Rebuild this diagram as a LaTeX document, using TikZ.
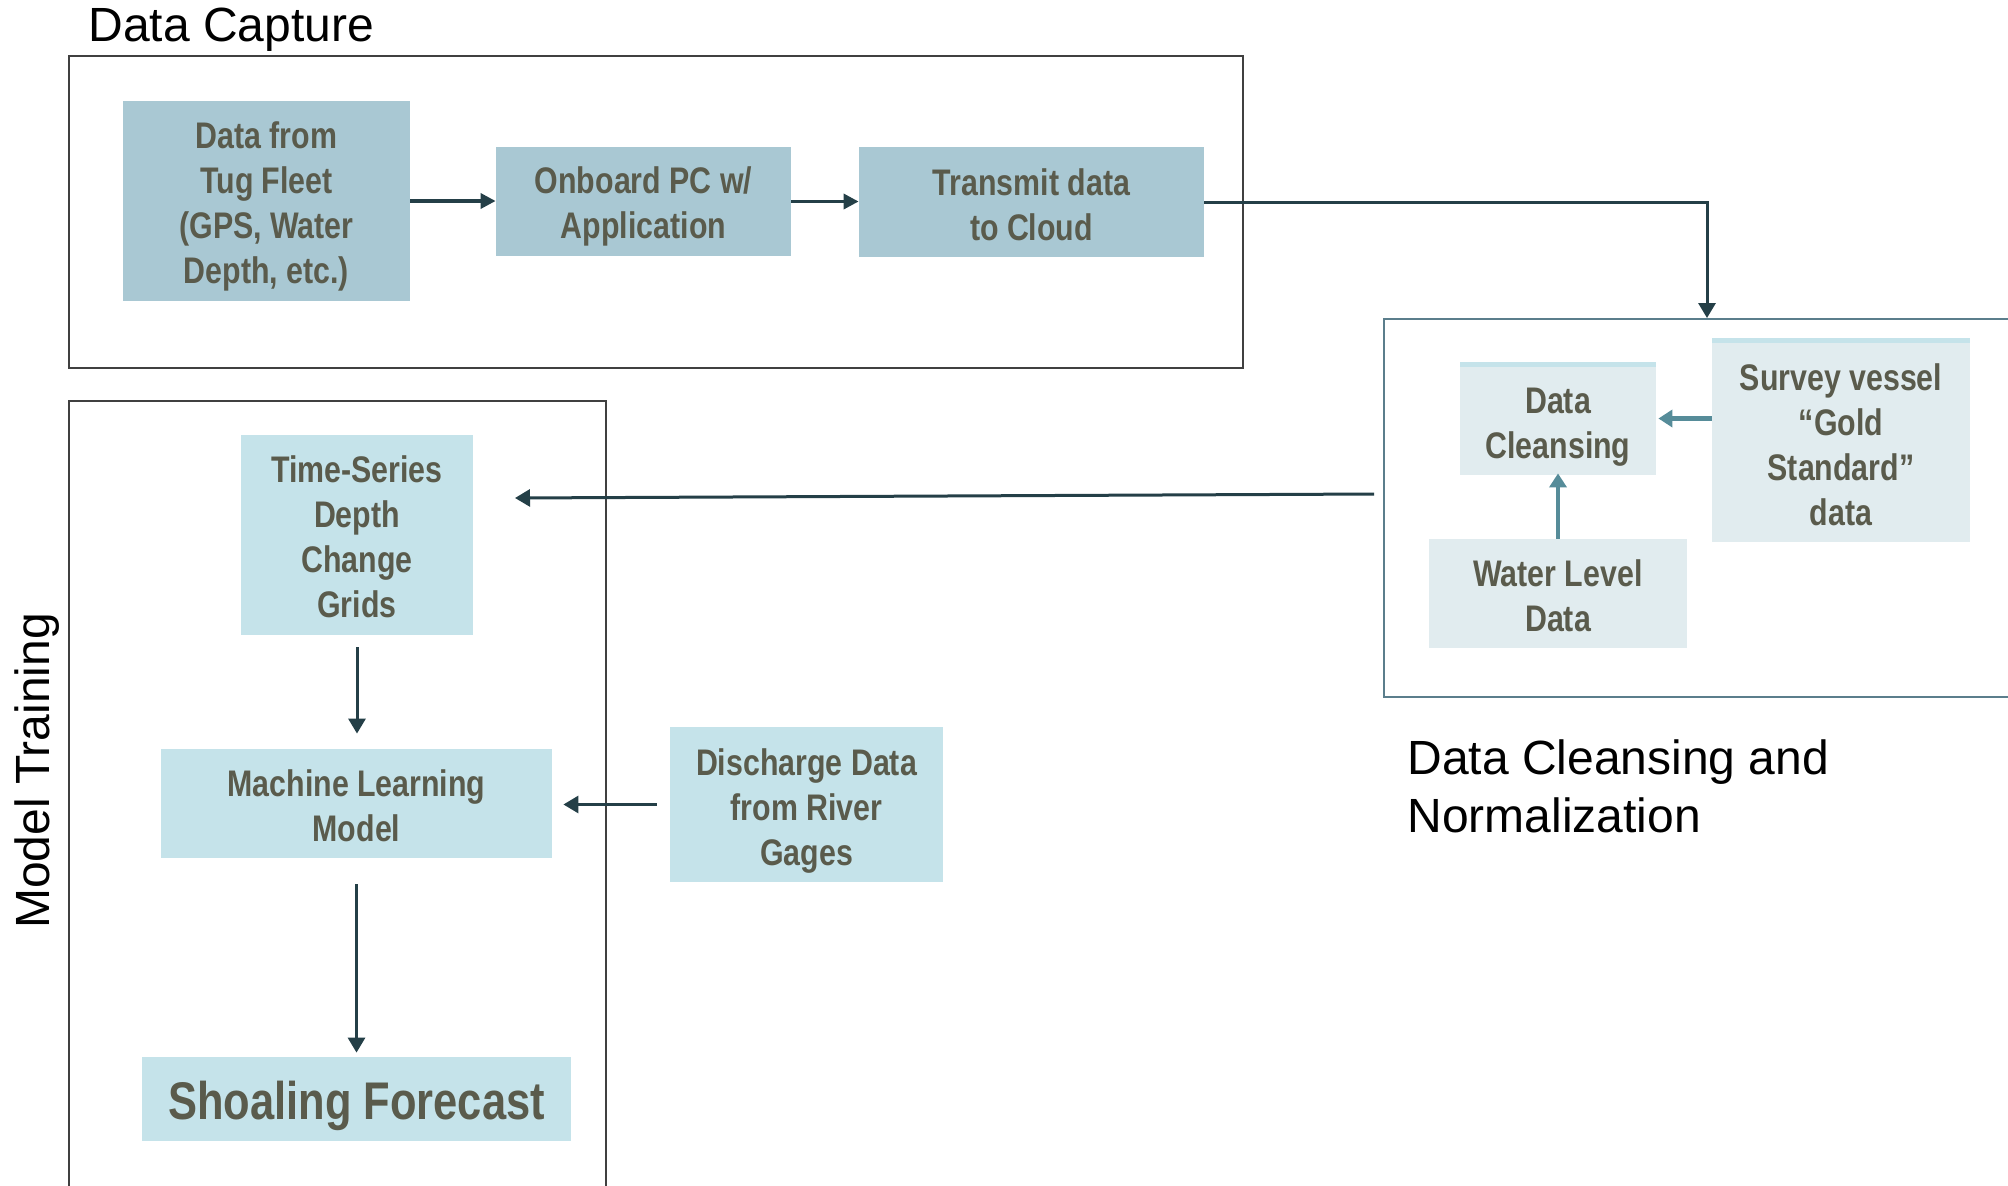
\documentclass[tikz,border=0pt]{standalone}
\usepackage{fontspec}
\setmainfont{Liberation Sans}
\newfontfamily\narrowfont[FakeStretch=0.82]{Liberation Sans}
\usetikzlibrary{arrows.meta,positioning,calc}

\definecolor{boxtext}{RGB}{90,91,76}
\definecolor{capfill}{RGB}{169,200,211}
\definecolor{modfill}{RGB}{197,227,234}
\definecolor{clnfill}{RGB}{225,236,239}
\definecolor{clnstrip}{RGB}{197,227,234}
\definecolor{darkarrow}{RGB}{36,63,71}
\definecolor{tealarrow}{RGB}{86,140,153}
\definecolor{frameline}{RGB}{64,64,64}
\definecolor{clnframe}{RGB}{91,126,140}

% first-line strut that sets how far the text sits below the box centre
\newcommand{\firstline}[1]{\rule{0pt}{#1}}

\tikzset{
  stepbox/.style={draw=none, align=center, text=boxtext,
    font=\narrowfont\bfseries\fontsize{18.5pt}{22.5pt}\selectfont,
    inner sep=0pt},
  capbox/.style={stepbox, fill=capfill},
  modbox/.style={stepbox, fill=modfill},
  clnbox/.style={stepbox, fill=clnfill,
    path picture={\fill[clnstrip] (path picture bounding box.north west)
      rectangle ([yshift=-2.5pt]path picture bounding box.north east);}},
  groupframe/.style={draw=frameline, line width=0.9pt, fill=none, inner sep=0pt},
  grouptitle/.style={font=\fontsize{24pt}{29pt}\selectfont, align=left, text=black, inner sep=0pt},
  flowthick/.style={draw=darkarrow, line width=1.7pt,
    -{Triangle[length=7.5pt,width=7.5pt]}},
  flow/.style={draw=darkarrow, line width=1.5pt,
    -{Triangle[length=7.5pt,width=8.5pt]}},
  tealflow/.style={draw=tealarrow, line width=2.1pt,
    -{Triangle[length=7pt,width=8.5pt]}},
}

\begin{document}
\begin{tikzpicture}[x=0.5pt,y=-0.5pt]
\useasboundingbox (0,0) rectangle (2008,1185);
\fill[white] (0,0) rectangle (2008,1185);

% ---- Data capture group
\node[groupframe, minimum width=587pt, minimum height=156pt] (capframe) at (656,212) {};
\node[grouptitle, anchor=west] (captitle) at (88,30) {Data Capture};

\node[capbox, minimum width=143.5pt, minimum height=100pt] (tug) at (266.5,201)
  {\firstline{18.6pt}Data from\\Tug Fleet\\(GPS, Water\\Depth, etc.)};
\node[capbox, minimum width=147.5pt, minimum height=54.5pt] (pc) at (643.5,201.5)
  {\firstline{18.6pt}Onboard PC w/\\Application};
\node[capbox, minimum width=172.5pt, minimum height=55pt] (cloud) at (1031.5,202)
  {\firstline{16.1pt}Transmit data\\to Cloud};

\draw[flowthick] (tug.east) -- (pc.west |- tug.east);
\draw[flowthick] (pc.east) -- (cloud.west |- pc.east);

% ---- Data cleansing and normalization group
\node[draw=clnframe, line width=1pt, inner sep=0pt, minimum width=323pt, minimum height=189pt] (clnframe) at (1707,508) {};
\node[grouptitle, anchor=west] (clntitle) at (1407,786) {Data Cleansing and\\Normalization};

\node[clnbox, minimum width=98pt, minimum height=56.5pt] (cleanse) at (1558,418.5)
  {\firstline{21.2pt}Data\\Cleansing};
\node[clnbox, minimum width=129pt, minimum height=102pt] (survey) at (1841,440)
  {\firstline{18.6pt}Survey vessel\\“Gold\\Standard”\\data};
\node[stepbox, fill=clnfill, minimum width=129pt, minimum height=54.5pt] (water) at (1558,593.5)
  {\firstline{16.1pt}Water Level\\Data};

\draw[tealflow] (survey.west |- cleanse.east) -- ([xshift=1pt]cleanse.east);
\draw[tealflow] (water.north) -- ([yshift=1pt]cleanse.south);

\draw[flow] (cloud.east) -| (clnframe.north);

% ---- Model training group
\node[groupframe, minimum width=268.5pt, minimum height=400pt] (modframe) at (337.5,801) {};
\node[grouptitle, rotate=90] (modtitle) at (37,771) {Model Training};

\node[modbox, minimum width=116pt, minimum height=100pt] (ts) at (357,535)
  {\firstline{14.8pt}Time-Series\\Depth\\Change\\Grids};
\node[modbox, minimum width=195.5pt, minimum height=54.5pt] (ml) at (356.5,803.5)
  {\firstline{16.1pt}Machine Learning\\Model};
\node[modbox, minimum width=214.5pt, minimum height=42pt,
  font=\narrowfont\bfseries\fontsize{26.5pt}{30pt}\selectfont] (shoal) at (356.5,1099)
  {\firstline{25.7pt}Shoaling Forecast};
\node[modbox, minimum width=136.5pt, minimum height=77.5pt] (discharge) at (806.5,804.5)
  {\firstline{19.9pt}Discharge Data\\from River\\Gages};

\coordinate (clnout) at (1374,494);
\coordinate (tsin) at (515,498);
\draw[flow] (clnout) -- (tsin);

\draw[flow, shorten <=6pt, shorten >=7.5pt] (ts.south) -- (ts.south |- ml.north);
\draw[flow, shorten <=13pt, shorten >=2pt] (ml.south) -- (ml.south |- shoal.north);
\draw[flow, shorten <=6.5pt, shorten >=5.5pt] (discharge.west) -- (ml.east |- discharge.west);
\end{tikzpicture}
\end{document}
